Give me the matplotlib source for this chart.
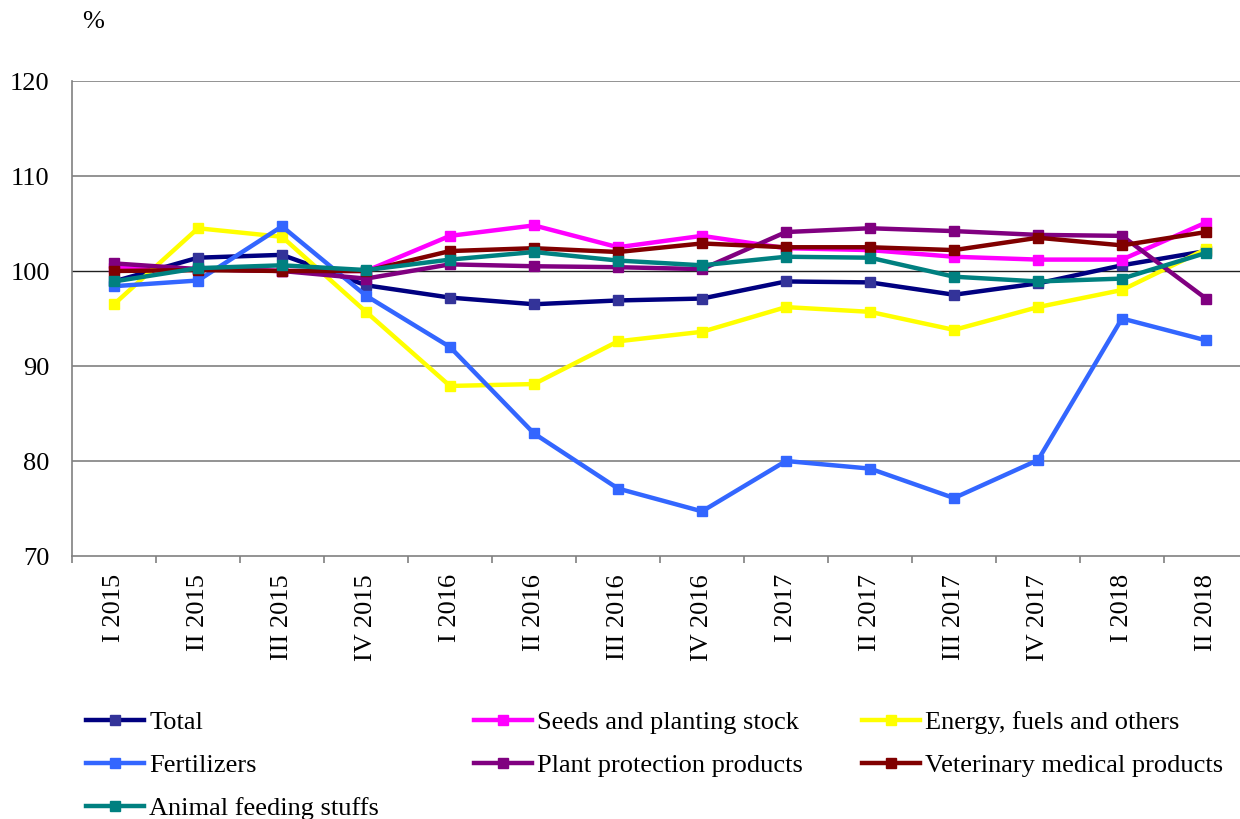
import matplotlib
matplotlib.use("Agg")
import matplotlib.pyplot as plt

# quarters and index values (previous quarter = 100)
quarters = ["I 2015", "II 2015", "III 2015", "IV 2015",
            "I 2016", "II 2016", "III 2016", "IV 2016",
            "I 2017", "II 2017", "III 2017", "IV 2017",
            "I 2018", "II 2018"]

total = [98.9, 101.4, 101.7, 98.5, 97.2, 96.5, 96.9, 97.1, 98.9, 98.8, 97.5, 98.7, 100.6, 102.1]
seeds = [100.3, 100.2, 100.0, 100.0, 103.7, 104.8, 102.5, 103.7, 102.4, 102.2, 101.5, 101.2, 101.2, 105.1]
energy = [96.5, 104.5, 103.6, 95.7, 87.9, 88.1, 92.6, 93.6, 96.2, 95.7, 93.8, 96.2, 98.0, 102.3]
fertilizers = [98.4, 99.0, 104.7, 97.4, 92.0, 82.9, 77.1, 74.7, 80.0, 79.2, 76.1, 80.1, 95.0, 92.7]
plant_prot = [100.8, 100.2, 100.0, 99.2, 100.7, 100.5, 100.4, 100.2, 104.1, 104.5, 104.2, 103.8, 103.7, 97.1]
veterinary = [100.0, 100.1, 100.0, 100.0, 102.1, 102.4, 102.0, 102.9, 102.5, 102.5, 102.2, 103.5, 102.7, 104.1]
animal_feed = [98.9, 100.3, 100.6, 100.1, 101.2, 102.0, 101.1, 100.6, 101.5, 101.4, 99.4, 98.9, 99.2, 101.9]

series = [
    ("Total", total, "#000080", "#333399"),
    ("Seeds and planting stock", seeds, "#FF00FF", "#FF00FF"),
    ("Energy, fuels and others", energy, "#FFFF00", "#FFFF00"),
    ("Fertilizers", fertilizers, "#3366FF", "#3366FF"),
    ("Plant protection products", plant_prot, "#800080", "#800080"),
    ("Veterinary medical products", veterinary, "#800000", "#800000"),
    ("Animal feeding stuffs", animal_feed, "#008080", "#008080"),
]

plt.rcParams['font.family'] = ['Liberation Serif', 'DejaVu Serif']
fs = 19

fig = plt.figure(figsize=(12.4, 8.19), dpi=100)
ax = fig.add_axes([72 / 1240, 1 - 556 / 819, 1176 / 1240, 475 / 819])

x = list(range(len(quarters)))
handles = {}
for name, vals, col, mcol in series:
    h, = ax.plot(x, vals, color=col, lw=3.2, marker='s', ms=6.5,
                 mfc=mcol, mec=mcol, label=name, solid_joinstyle='round')
    handles[name] = h

ax.set_xlim(-0.5, len(quarters) - 0.5)
ax.set_ylim(70, 120)
ax.set_yticks([70, 80, 90, 100, 110, 120])
ax.tick_params(axis='y', length=0, pad=16, labelsize=fs)
ax.set_xticks(x)
ax.set_xticklabels(quarters, rotation=90, fontsize=fs)
ax.tick_params(axis='x', length=0, pad=13)
ax.set_xticks([i + 0.5 for i in range(-1, len(quarters))], minor=True)
ax.tick_params(axis='x', which='minor', length=5, color='#808080', width=1.2)

for yv in [80, 90, 110, 120]:
    ax.axhline(yv, color='#808080', lw=1.2, zorder=0)
ax.axhline(100, color='#202020', lw=1.0, zorder=0)

for s in ['top', 'right']:
    ax.spines[s].set_visible(False)
ax.spines['left'].set_color('#808080')
ax.spines['bottom'].set_color('#808080')
ax.spines['left'].set_linewidth(1.2)
ax.spines['bottom'].set_linewidth(1.2)

fig.text(93 / 1240, 1 - 22 / 819, "%", fontsize=fs, ha='center', va='center')

# legend: three columns placed by hand
cols = [
    (["Total", "Fertilizers", "Animal feeding stuffs"], 86),
    (["Seeds and planting stock", "Plant protection products"], 474),
    (["Energy, fuels and others", "Veterinary medical products"], 862),
]
for names, xpx in cols:
    leg = fig.legend([handles[n] for n in names], names,
                     loc='upper left', bbox_to_anchor=(xpx / 1240, 1 - 711 / 819),
                     frameon=False, fontsize=fs, handlelength=2.2,
                     handletextpad=0.2, labelspacing=0.74, borderaxespad=0,
                     borderpad=0)

fig.savefig("out.png", dpi=100)
